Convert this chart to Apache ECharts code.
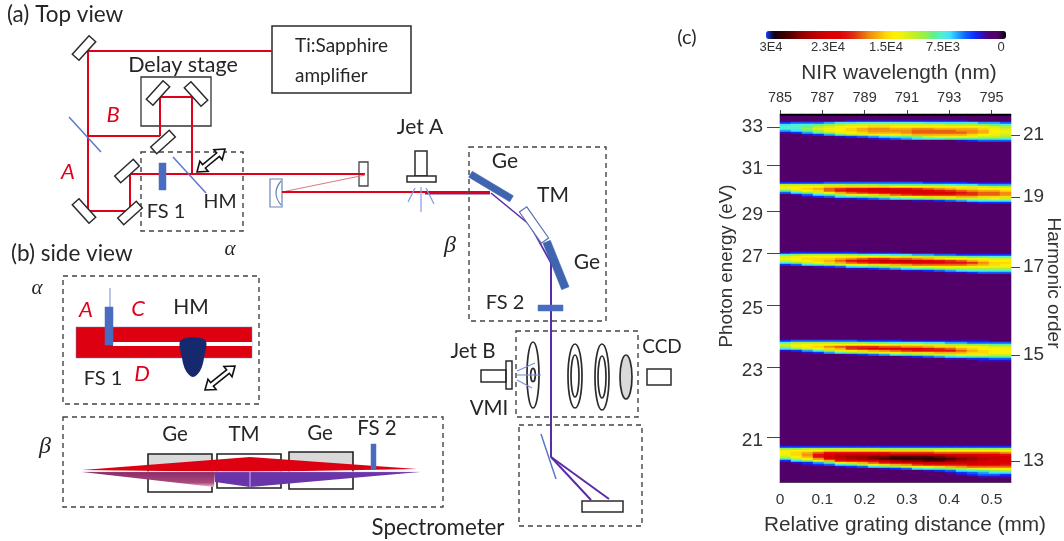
<!DOCTYPE html>
<html>
<head>
<meta charset="utf-8">
<style>html,body{margin:0;padding:0;background:#fff}#c{width:1064px;height:541px;filter:blur(0.45px)}</style>
<script src="https://cdn.jsdelivr.net/npm/echarts@6/dist/echarts.min.js"></script>
</head>
<body>
<div id="c"></div>
<script>
// ---------- Data (heatmap values in units of 1000 counts) ----------
const gratingTicks = [0, 0.1, 0.2, 0.3, 0.4, 0.5];
const nirTicks = [785, 787, 789, 791, 793, 795];
const colorbarLabels = ['3E4', '2.3E4', '1.5E4', '7.5E3', '0'];
const columnCount = 21, rowCount = 184;
const backgroundLevel = 1.5, edgeStripLevel = 0;

// short rows are right-aligned: leading columns stay at the background level
const harmonic21 = [
[2,2,2,2,2,2,3,3,3,3,3,3,3,3,3,3,3,2,2,2,2],
[4,5,5,5,6,7,7,8,8,8,8,8,8,7,7,7,7,7,6,6,5],
[7,8,8,9,10,11,12,12,12,12,12,12,12,12,12,11,11,11,10,9,8],
[8,8,9,11,12,13,14,14,15,15,14,14,14,14,14,14,14,14,13,12,11],
[8,8,10,12,13,14,15,16,17,17,16,16,17,17,16,16,16,16,15,13,12],
[6,7,9,11,13,14,15,16,17,17,17,17,18,18,18,18,17,17,16,14,13],
[3,4,6,9,11,13,14,15,16,16,16,17,18,18,18,18,18,17,16,14,13],
[2,2,3,4,6,9,11,12,13,14,14,15,16,16,16,16,16,15,14,13,12],
[2,3,4,5,6,7,8,9,10,12,13,13,13,13,12,12,11],
[2,2,3,4,5,6,7,8,8,9,9,9,9,9,8],
[2,3,4,5,5,5],
[2,2,2,2]];
const harmonic19 = [
[4,4,4,4,5,5,5,5,5,5,5,5,5,4,4,4,4,3,3,3,3],
[11,11,11,11,11,11,10,10,10,9,9,9,9,9,9,8,7,7,6,6,6],
[13,14,14,14,15,15,15,15,15,15,14,14,14,14,13,13,13,12,12,11,11],
[13,14,15,16,18,19,20,20,21,21,20,20,19,18,17,16,15,15,14,14,14],
[9,12,14,15,18,20,21,21,22,22,22,22,22,21,20,19,18,17,16,16,15],
[5,7,10,12,14,16,18,19,20,21,22,22,22,22,22,22,20,19,18,18,17],
[2,3,5,7,9,11,13,14,15,16,18,19,20,20,20,20,19,19,18,18,17],
[2,2,3,4,5,7,8,9,10,11,12,13,14,15,15,15,16,16,15,15,15],
[2,2,3,3,4,5,6,7,8,9,10,11,12,12,12,12,13,12],
[2,2,3,3,4,5,6,7,8,8,8],
[2,3,4,4,4]];
const harmonic17 = [
[3,4,4,4,4,4,4,3,3,3,3,2,2,2,2,2,2,2,2,2,2],
[8,10,11,11,11,11,10,9,8,8,7,7,6,6,5,5,4,4,4,4,4],
[12,13,14,14,14,14,14,14,14,13,13,12,12,11,11,10,10,9,9,8,8],
[13,14,15,15,15,16,17,18,19,19,18,18,17,16,15,14,14,13,13,12,12],
[12,13,14,15,16,18,20,21,22,23,23,23,22,21,20,19,18,16,15,14,14],
[8,10,12,14,15,16,18,19,20,21,21,22,22,21,21,20,20,19,17,15,15],
[4,5,7,9,11,12,14,14,15,15,16,17,18,18,18,18,18,17,16,15,14],
[2,2,2,3,4,5,7,8,9,10,11,12,13,13,14,14,14,14,14,13,13],
[2,2,3,3,4,5,6,7,8,9,10,11,11,11,11,11,11],
[2,2,2,3,3,4,5,6,7,8,8,8,8],
[2,2,3,3,4,5,5,5],
[2,2,2,2]];
const harmonic15 = [
[4,5,5,5,5,5,5,4,4,4,4,3,3,3,3,3,3,3,3,2,2],
[8,11,11,11,11,10,10,10,9,9,8,8,8,7,7,6,6,5,5,5,5],
[12,13,14,14,14,14,14,14,14,14,13,13,13,12,12,11,11,10,10,9,9],
[11,13,14,15,17,18,19,19,19,18,18,17,17,16,15,15,14,14,13,12,12],
[7,10,12,14,15,16,19,20,21,21,21,21,21,20,19,18,16,15,14,14,13],
[3,4,6,8,11,13,14,15,16,17,18,19,20,20,20,20,18,16,15,14,14],
[2,2,3,4,6,8,10,11,12,13,14,15,15,15,16,16,16,15,15,14,14],
[2,2,3,4,5,6,8,9,10,11,12,12,13,13,13,12,12],
[2,2,3,4,5,6,7,8,9,9,9,9],
[2,3,3,4,4,5,5],
[2,3,3,3]];
const harmonic13 = [
[4,4,4,4,4,4,4,4,4,4,4,4,4,4,4,4,4,4,4,4,4],
[10,10,11,11,11,11,11,11,11,10,10,10,10,10,10,10,10,10,10,10,10],
[13,14,14,14,15,15,15,15,15,15,15,15,15,15,14,14,14,14,14,14,14],
[14,15,16,18,20,20,20,20,20,20,19,19,19,19,18,18,18,18,18,18,17],
[13,15,17,20,22,23,23,23,23,23,23,23,23,23,23,22,22,22,21,21,20],
[12,14,16,20,23,24,25,25,26,26,27,27,27,27,26,25,24,24,23,23,22],
[9,12,14,17,21,23,24,25,26,27,28,28,28,28,28,27,26,25,24,23,22],
[4,7,10,13,16,20,21,22,23,24,25,26,26,27,27,26,25,24,23,22,22],
[2,3,4,6,9,13,15,16,18,20,21,22,23,23,23,23,23,23,22,22,21],
[2,2,3,4,5,7,9,11,13,15,16,17,19,20,20,20,20,21,21,21,20],
[2,2,3,4,5,7,9,10,12,13,14,15,16,17,18,18,18,18],
[2,2,3,4,5,7,8,9,10,11,12,13,14,14],
[2,2,3,4,5,7,8,9,10,11],
[2,3,4,5,6,7,7],
[3,4,5,5,4],
[2,2,3,3,3]];

// ---------- Layout of the heatmap ----------
const bandTopRows = [[harmonic21, 3], [harmonic19, 34], [harmonic17, 69], [harmonic15, 113], [harmonic13, 166]];
const energyTickRows = {6: 33, 25: 31, 48: 29, 69: 27, 95: 25, 126: 23, 161: 21};
const harmonicTickRows = {10: 21, 41: 19, 76: 17, 120: 15, 173: 13};
const colormap = ['#000000','#52006a','#52006a','#3010c0','#0a30ff','#1060ff','#20a0ff','#40e0ff','#50f0d0','#60f090',
  '#90f050','#b0f030','#d0f020','#f0f010','#fff000','#fdd808','#f8b010','#f09010','#e86010','#e03010',
  '#e01010','#e00000','#d80000','#cc0000','#b80000','#a00000','#800000','#500000','#300000','#100010','#1040ff'];

const cells = [];
const rowLevels = [];
for (let r = 0; r < rowCount; r++) rowLevels.push(new Array(columnCount).fill(r === 0 ? edgeStripLevel : backgroundLevel));
bandTopRows.forEach(([band, top]) => band.forEach((row, i) => {
  const off = columnCount - row.length;
  row.forEach((v, j) => { rowLevels[top + i][off + j] = v; });
}));
rowLevels.forEach((row, r) => row.forEach((v, c) => cells.push([c, r, v])));
const columnNames = Array.from({length: columnCount}, (_, i) => String(i));
const rowNames = Array.from({length: rowCount}, (_, i) => String(i));

// ---------- Schematic helpers ----------
const G = [];
const SANS = 'Lato, "Open Sans", sans-serif';
const ARIAL = '"Liberation Sans", Arial, sans-serif';
const INK = '#2b2b2b', RED = '#e0001a', BLUE = '#4a6cc0', THIN = '#5a7ac8', PURPLE = '#5a2ca8';
const line = (x1,y1,x2,y2,stroke=RED,lineWidth=2,extra={}) => G.push({type:'line',shape:{x1,y1,x2,y2},style:{stroke,lineWidth,...extra}});
const box = (x1,y1,x2,y2,stroke=INK,lineWidth=1.5,fill='none',extra={}) => G.push({type:'rect',shape:{x:x1,y:y1,width:x2-x1,height:y2-y1},style:{stroke,lineWidth,fill,...extra}});
const dashed = (x1,y1,x2,y2) => box(x1,y1,x2,y2,'#444',1.4,'none',{lineDash:[5,4]});
const poly = (points,fill,stroke='none',lineWidth=1,smooth=0) => G.push({type:'polygon',shape:{points,smooth},style:{fill,stroke,lineWidth}});
const ell = (cx,cy,rx,ry,fill='none',stroke=INK,lineWidth=1.7) => G.push({type:'ellipse',shape:{cx,cy,rx,ry},style:{fill,stroke,lineWidth}});
const bar = (cx,cy,len,th,deg,fill='#fff',stroke=INK,lineWidth=1.5) => {
  const a=deg*Math.PI/180,ux=Math.cos(a)*len/2,uy=Math.sin(a)*len/2,vx=-Math.sin(a)*th/2,vy=Math.cos(a)*th/2;
  poly([[cx-ux-vx,cy-uy-vy],[cx+ux-vx,cy+uy-vy],[cx+ux+vx,cy+uy+vy],[cx-ux+vx,cy-uy+vy]],fill,stroke,lineWidth);
};
const txt = (text,x,y,size=19,fill='#262626',family=SANS,style='normal',rotation=0,align='center') =>
  G.push({type:'text',x,y,rotation,style:{text,fill,align,verticalAlign:'middle',font:`${style} ${size}px ${family}`}});
const dblArrow = (x1,y1,x2,y2) => {
  const L=Math.hypot(x2-x1,y2-y1),ux=(x2-x1)/L,uy=(y2-y1)/L,nx=-uy,ny=ux,s=2.2,h=6.5,d=9;
  const P=(t,o)=>[x1+ux*t+nx*o,y1+uy*t+ny*o];
  poly([P(0,0),P(d,h),P(d,s),P(L-d,s),P(L-d,h),P(L,0),P(L-d,-h),P(L-d,-s),P(d,-s),P(d,-h)],'#fff','#111',1.6);
};

// ---------- (a) Top view ----------
txt('(a) Top view',7,15,22.5,'#262626',SANS,'normal',0,'left');
box(272,26,411,93,INK,1.5);
txt('Ti:Sapphire',295,46,19,'#262626',SANS,'normal',0,'left');
txt('amplifier',295,76,19,'#262626',SANS,'normal',0,'left');
txt('Delay stage',183,65,21.5);
box(141,77,211,126,'#333',1.3);
dashed(141,152,243,231);
line(88,51,272,51); line(88,51,88,211); line(88,211,130,211); line(130,211,130,174);
line(130,174,365,174); line(87,136,160,136); line(160,136,160,97); line(160,97,192,97); line(192,97,192,174);
line(69,117,101,152,THIN,1.5); line(173,157,206,193,THIN,1.5);
box(159,163,166,190,BLUE,0.5,BLUE);
[[84,48,-48],[158,93,-48],[196,94,48],[163,142,-42],[127,171,-42],[84,211,48],[130,213,-42]].forEach(m=>bar(m[0],m[1],25,9,m[2]));
dblArrow(197,172,225,149);
txt('B',113,115,22,RED,SANS,'italic'); txt('A',68,172,22,RED,SANS,'italic');
txt('FS 1',166,212,20); txt('HM',220,202,19.5);
txt('α',230,249,21,'#262626','"Liberation Serif",serif','italic');
// beam to jet A
box(270,179,282,207,'#6a85b8',1.2);
G.push({type:'bezierCurve',shape:{x1:281,y1:181,x2:281,y2:205,cpx1:271,cpy1:193},style:{stroke:'#6a85b8',lineWidth:1.2,fill:'none'}});
box(359,162,368,186,'#444',1.3);
line(282,192,365,175,'#e07878',1);
line(425,193.5,490,193.5,PURPLE,2);
line(282,192,490,192,RED,2);
box(415,151,427,176,INK,1.5,'#fff'); box(407,176,436,182,INK,1.5,'#fff');
line(421,187,421,212,'#8a9ae0',1.2); line(415,188,408,202,'#8a9ae0',1.2); line(426,188,434,204,'#8a9ae0',1.2);
txt('Jet A',420,127,21);
// beta path
dashed(469,147,606,321);
txt('β',450,246,24,'#262626','"Liberation Serif",serif','italic');
line(491,193,530,225,PURPLE,1.6); line(530,225,551,263,PURPLE,1.6); line(551,263,551,457,PURPLE,2);
bar(491,186.5,48,7,31,'#4065b0','#4065b0',0.5);
bar(534,225,38,9,55,'#fff','#5a70b0',1.2);
bar(556,265,50,8,68,'#4065b0','#4065b0',0.5);
txt('Ge',505,161,21); txt('TM',553,195,21); txt('Ge',587,262,21); txt('FS 2',505,303,20);
box(538,305,563,311,BLUE,0.5,BLUE);
// VMI
dashed(516,331,638,417);
box(481,370,506,382); box(506,361,512,389);
ell(533,375,6,33); ell(533,375,2.3,6.7);
ell(575,376,7,32); ell(575,376,4,21);
ell(602,377,7,33); ell(602,377,4,21);
ell(626,377,6,22,'#d9d9d9');
line(517,371,535,363,'#7a90e0',1.1); line(517,375,541,375,'#7a90e0',1.1); line(517,380,532,388,'#7a90e0',1.1);
box(647,369,671,385);
txt('Jet B',473,351,20.5); txt('VMI',489,408,20.5); txt('CCD',662,347,19);
// Spectrometer
dashed(519,425,642,526);
line(541,434,556,479,THIN,1.5);
line(551,457,591,500,PURPLE,2); line(551,457,609,499,PURPLE,2);
box(582,501,623,512);
txt('Spectrometer',438,528,22.3);

// ---------- (b) Side view ----------
txt('(b) side view',11,254,22.5,'#262626',SANS,'normal',0,'left');
dashed(63,276,259,404);
txt('α',37,288,21,'#262626','"Liberation Serif",serif','italic');
box(76,327,252,358,'#6a85b8',0.5,'#dd0011');
box(113,342,252,346,'none',0,'#fff');
poly([[181,340],[205,340],[204,358],[200,371],[193,377],[186,371],[182,358]],'#16296e','none',1,0.35);
line(110,288,110,307,'#8aa0d8',1.2);
box(105,307,113,345,BLUE,0.5,BLUE);
txt('A',86,310,22,RED,SANS,'italic'); txt('C',138,309,22,RED,SANS,'italic'); txt('D',142,374,22,RED,SANS,'italic');
txt('HM',191,307,21); txt('FS 1',103,379,20);
dblArrow(205,390,235,366);
// beta side view
dashed(63,417,443,507);
txt('β',45,447,24,'#262626','"Liberation Serif",serif','italic');
box(148,454,212,472,'none',0,'#d9d9d9'); box(289,452,353,470,'none',0,'#d9d9d9');
box(148,454,212,492,'#222',1.6); box(217,454,281,488,'#222',1.6); box(289,452,353,489,'#222',1.6);
poly([[82,472],[215,472],[250,487],[420,472],[250,472]],'#6a35a8');
poly([[82,472],[215,472],[214,487]],{type:'linear',x:0,y:0,x2:0,y2:1,colorStops:[{offset:0,color:'#8a2a6a'},{offset:0.7,color:'#a84a7a'},{offset:1,color:'#f0c0c8'}]});
poly([[215,472],[250,472],[250,487],[215,482]],'#6a35a8');
poly([[82,470],[250,457],[417,469],[250,472]],'#dd0011');
line(250,472,250,487,'#c8b8e8',1);
line(82,471.6,420,471.6,'#f0e8f0',0.8);
box(371,444,376,469,BLUE,0.5,BLUE);
txt('Ge',175,434,20.5); txt('TM',244,434,20.5); txt('Ge',320,433,20.5); txt('FS 2',377,428,20.5);

// ---------- (c) labels ----------
txt('(c)',687,38,20);
[771,828,886,943,1001].forEach((x,i)=>txt(colorbarLabels[i],x,47,13,'#333',ARIAL));
txt('NIR wavelength (nm)',899,73,20.8,'#333',ARIAL);
txt('Relative grating distance (mm)',905,525,20.8,'#333',ARIAL);
txt('Photon energy (eV)',727,266,18.8,'#333',ARIAL,'normal',Math.PI/2);
txt('Harmonic order',1053,283,19,'#333',ARIAL,'normal',-Math.PI/2);

// ---------- Chart ----------
const chart = echarts.init(document.getElementById('c'));
chart.setOption({
  animation:false,
  backgroundColor:'#fff',
  textStyle:{fontFamily:ARIAL},
  grid:[
    {left:780,top:114,width:231,height:368,containLabel:false},
    {left:780,top:114,width:211.5,height:368,containLabel:false}
  ],
  xAxis:[
    {gridIndex:0,type:'category',data:columnNames,axisLabel:{show:false},axisTick:{show:false},axisLine:{show:true,lineStyle:{color:'#555',width:1}},splitLine:{show:false}},
    {gridIndex:1,type:'value',position:'bottom',min:gratingTicks[0],max:gratingTicks[gratingTicks.length-1],interval:0.1,
     axisLine:{show:false},axisTick:{show:false},splitLine:{show:false},
     axisLabel:{fontSize:15.5,color:'#333',margin:10,showMinLabel:true,showMaxLabel:true,hideOverlap:false}},
    {gridIndex:1,type:'value',position:'top',min:nirTicks[0],max:nirTicks[nirTicks.length-1],interval:2,
     axisLine:{show:false},axisTick:{show:true,length:4,lineStyle:{color:'#444'}},splitLine:{show:false},
     axisLabel:{fontSize:14.5,color:'#333',margin:9,showMinLabel:true,showMaxLabel:true,hideOverlap:false}}
  ],
  yAxis:[
    {gridIndex:0,type:'category',inverse:true,position:'left',data:rowNames,
     axisLine:{show:true,lineStyle:{color:'#555'}},
     axisTick:{show:true,length:13,alignWithLabel:true,interval:(i)=>energyTickRows[i]!==undefined,lineStyle:{color:'#444'}},
     axisLabel:{interval:(i)=>energyTickRows[i]!==undefined,
       formatter:(v)=>Number(v)===6?`{a|${energyTickRows[v]}}`:`{b|${energyTickRows[v]}}`,
       rich:{a:{fontSize:19,color:'#333'},b:{fontSize:19,color:'#333',padding:[8,0,0,0]}},margin:17,hideOverlap:false},
     splitLine:{show:false}},
    {gridIndex:0,type:'category',inverse:true,position:'right',data:rowNames,
     axisLine:{show:false},
     axisTick:{show:true,length:9,alignWithLabel:true,interval:(i)=>harmonicTickRows[i]!==undefined,lineStyle:{color:'#444'}},
     axisLabel:{interval:(i)=>harmonicTickRows[i]!==undefined,formatter:(v)=>String(harmonicTickRows[v]),fontSize:19,color:'#333',margin:12,hideOverlap:false},
     splitLine:{show:false}},
    {gridIndex:1,type:'value',show:false,min:0,max:1}
  ],
  visualMap:{type:'continuous',seriesIndex:0,min:0,max:30,orient:'horizontal',inverse:true,left:766,top:31,itemWidth:8,itemHeight:240,
    text:null,showLabel:false,calculable:false,hoverLink:false,realtime:false,padding:0,inRange:{color:colormap},
    textStyle:{fontSize:0}},
  series:[{type:'heatmap',xAxisIndex:0,yAxisIndex:0,data:cells,progressive:0,silent:true,emphasis:{disabled:true},itemStyle:{borderWidth:0}}],
  graphic:{elements:G}
});
</script>
</body>
</html>
